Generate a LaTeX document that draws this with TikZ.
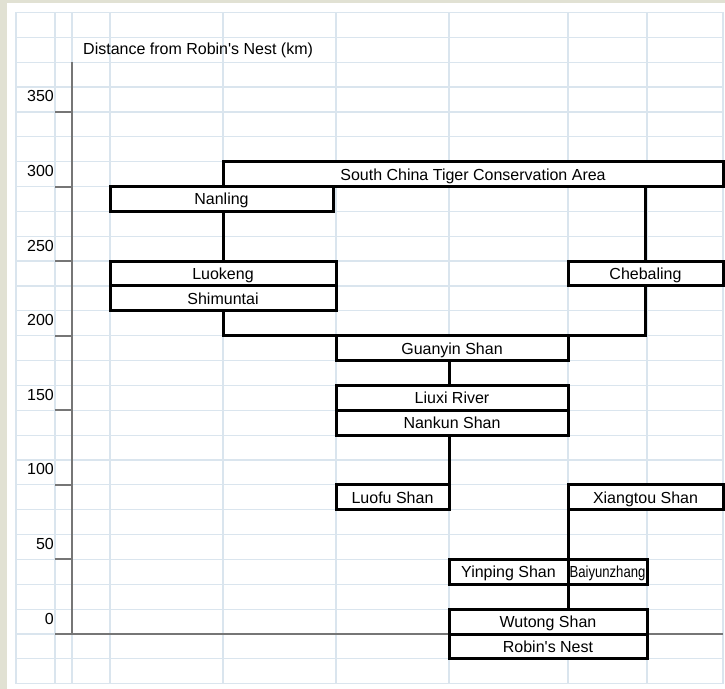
\documentclass[tikz,border=0pt]{standalone}
\usepackage{fontspec}
\usepackage{graphicx}
\newfontfamily\arialfont{Liberation Sans}
\definecolor{paper}{HTML}{E1E1D3}
\definecolor{gridblue}{HTML}{DAE5EE}
\definecolor{axisgray}{HTML}{767676}
\tikzset{
	gridline/.style={draw=gridblue, line width=1.2pt},
	axisline/.style={draw=axisgray, line width=2pt},
	lbl/.style={inner sep=0pt, font=\arialfont\fontsize{16}{19}\selectfont},
	site/.style={lbl, draw, fill=white, line width=3pt, outer sep=0pt,
		minimum height=24.86pt, text height=12pt, text depth=0pt},
	route/.style={line width=3pt}
}
\begin{document}
\begin{tikzpicture}[x=1pt, y=24.86pt]
	\useasboundingbox (0,-2.212) rectangle (725,25.503);
	\fill[paper] (0,-2.212) rectangle (725,25.503);
	\fill[white] (7,-2.212) rectangle (725,25.382);
	% spreadsheet grid
	\foreach \r in {-2,...,25}
	\draw[gridline] (16,\r) -- (723,\r);
	\foreach \x in {16,55,72,110,223,336,449,568,647,723}
	\draw[gridline] (\x,-2) -- (\x,25);
	% axis, one tick every 3 rows = 50 km
	\draw[axisline] (72,23) -- (72,0) (55,0) -- (723,0);
	\foreach \km[count=\i from 0] in {0,50,...,350}{
		\draw[axisline] (55,3*\i) -- (72,3*\i);
		\node[lbl, anchor=base east] (t\km) at (54,3*\i+.4) {\km};
	}
	\node[lbl, anchor=base west] (title) at (83,23.33) {Distance from Robin's Nest (km)};
	% name/left/right/row/text
	\foreach \nm/\xa/\xb/\r/\txt in {
		sctca/223/723/18/South China Tiger Conservation Area,
		nanling/110/333/17/Nanling,
		luokeng/110/336/14/Luokeng,
		shimuntai/110/336/13/Shimuntai,
		chebaling/568/723/14/Chebaling,
		guanyin/336/568/11/Guanyin Shan,
		liuxi/336/568/9/Liuxi River,
		nankun/336/568/8/Nankun Shan,
		luofu/336/449/5/Luofu Shan,
		xiangtou/568/723/5/Xiangtou Shan,
		yinping/449/568/2/Yinping Shan,
		baiyun/568/647/2/{\scalebox{.82}[1]{Baiyunzhang}},
		wutong/449/647/0/Wutong Shan,
		robin/449/647/-1/Robin's Nest}
	\node[site, minimum width=\xb-\xa] (\nm) at ({(\xa+\xb)/2},\r+.5) {\txt};
	\draw[route] (nanling.south -| luokeng.north) -- (luokeng.north);
	\draw[route] (chebaling.north |- sctca.south) -- (chebaling.north);
	\draw[route] (shimuntai.south) |- (chebaling.south |- guanyin.north) -- (chebaling.south);
	\draw[route] (guanyin.south -| luofu.east) -- (liuxi.north -| luofu.east);
	\draw[route] (nankun.south -| luofu.east) -- (luofu.north east);
	\draw[route] (xiangtou.south west) -- (baiyun.north west);
	\draw[route] (baiyun.south west) -- (wutong.north -| baiyun.west);
\end{tikzpicture}
\end{document}
